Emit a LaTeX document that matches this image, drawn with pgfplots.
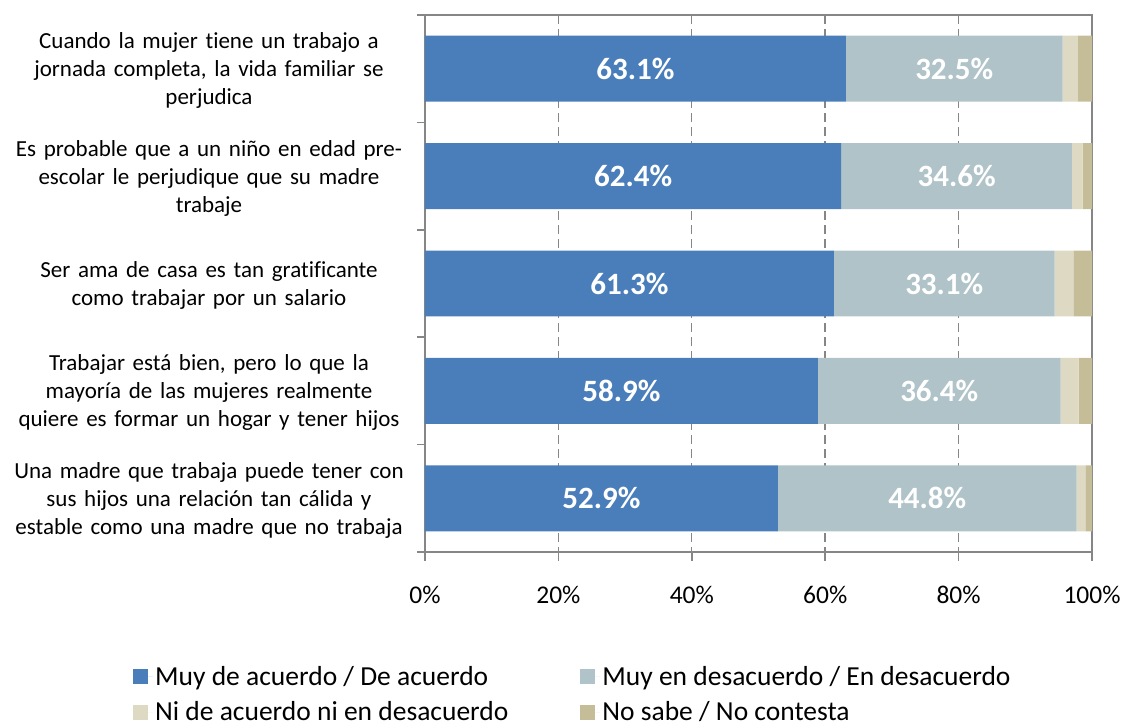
\documentclass[border=0pt]{standalone}
\usepackage{pgfplots}
\pgfplotsset{compat=1.18}
\usepackage{fontspec}
\setmainfont{Carlito}[Ligatures={NoCommon}]
\definecolor{cA}{RGB}{74,126,187}
\definecolor{cB}{RGB}{175,195,200}
\definecolor{cC}{RGB}{221,217,195}
\definecolor{cD}{RGB}{196,189,151}
\definecolor{axgray}{RGB}{134,134,134}
\begin{document}
\begin{tikzpicture}
\begin{axis}[
  name=main,
  at={(0,0)}, anchor=south west,
  scale only axis, width=667bp, height=537bp,
  xbar stacked, bar width=0.614,
  xmin=0, xmax=100, ymin=0.5, ymax=5.5, y dir=reverse,
  axis line style={draw=axgray, line width=1.8bp},
  xtick={0,20,40,60,80,100},
  xticklabel={\pgfmathprintnumber{\tick}\%},
  /pgf/number format/assume math mode=true,
  xticklabel style={font=\fontsize{25.5bp}{30bp}\selectfont, yshift=-22bp},
  xmajorgrids,
  x grid style={draw=axgray, line width=1.4bp, dash pattern=on 9bp off 5bp},
  ytick={1,2,3,4,5},
  yticklabels={
    {Cuando la mujer tiene un trabajo a\\jornada completa, la vida familiar se\\perjudica},
    {Es probable que a un niño en edad pre-\\escolar le perjudique que su madre\\trabaje},
    {Ser ama de casa es tan gratificante\\como trabajar por un salario},
    {Trabajar está bien, pero lo que la\\mayoría de las mujeres realmente\\quiere es formar un hogar y tener hijos},
    {Una madre que trabaja puede tener con\\sus hijos una relación tan cálida y\\estable como una madre que no trabaja}},
  yticklabel style={font=\fontsize{23bp}{28bp}\selectfont, text width=440bp, align=center, anchor=center, inner sep=0pt, xshift=-207bp, yshift=-2bp},
  minor ytick={0.5,1.5,2.5,3.5,4.5,5.5},
  tick align=outside,
  xtick pos=bottom, ytick pos=left,
  major tick length=9bp, minor tick length=8bp,
  major y tick style={draw=none},
  every tick/.style={draw=axgray, line width=1.6bp},
  minor tick style={draw=axgray, line width=1.6bp},
  major x tick style={draw=axgray, line width=1.6bp},
  legend columns=2,
  legend style={at={(axis description cs:0,0)}, anchor=north west, xshift=-292bp, yshift=-112bp,
    draw=none, fill=none, inner sep=0pt, font=\fontsize{27.5bp}{31bp}\selectfont,
    /tikz/every even column/.append style={column sep=70bp},
    row sep=11bp},
  legend cell align=left,
  legend image code/.code={\fill[#1] (0bp,-7.5bp) rectangle (15bp,7.5bp); \path (15bp,0bp) -- (20bp,0bp);},
]
\addplot[fill=cA, draw=none] coordinates {(63.1,1) (62.4,2) (61.3,3) (58.9,4) (52.9,5)};
\addplot[fill=cB, draw=none] coordinates {(32.5,1) (34.6,2) (33.1,3) (36.4,4) (44.8,5)};
\addplot[fill=cC, draw=none] coordinates {(2.3,1) (1.6,2) (2.8,3) (2.7,4) (1.3,5)};
\addplot[fill=cD, draw=none] coordinates {(2.1,1) (1.4,2) (2.8,3) (2.0,4) (1.0,5)};
\legend{Muy de acuerdo / De acuerdo, Muy en desacuerdo / En desacuerdo, Ni de acuerdo ni en desacuerdo, No sabe / No contesta}
\end{axis}
\begin{axis}[
  at={(0,0)}, anchor=south west,
  scale only axis, width=667bp, height=537bp,
  xmin=0, xmax=100, ymin=0.5, ymax=5.5, y dir=reverse,
  hide axis, clip=false,
  point meta=explicit,
  nodes near coords={\pgfmathprintnumber[fixed,fixed zerofill,precision=1,assume math mode=true]{\pgfplotspointmeta}\%},
  nodes near coords style={anchor=center, text=white, font=\fontsize{31bp}{36bp}\selectfont\bfseries},
]
\addplot[only marks, mark=*, mark size=0pt, mark options={draw=none, fill=none}] coordinates {(31.55,1) [63.1] (31.2,2) [62.4] (30.65,3) [61.3] (29.45,4) [58.9] (26.45,5) [52.9]};
\addplot[only marks, mark=*, mark size=0pt, mark options={draw=none, fill=none}] coordinates {(79.35,1) [32.5] (79.7,2) [34.6] (77.85,3) [33.1] (77.1,4) [36.4] (75.3,5) [44.8]};
\end{axis}
\pgfresetboundingbox
\path[use as bounding box] (-425bp,-174bp) rectangle (700bp,552bp);
\end{tikzpicture}
\end{document}
